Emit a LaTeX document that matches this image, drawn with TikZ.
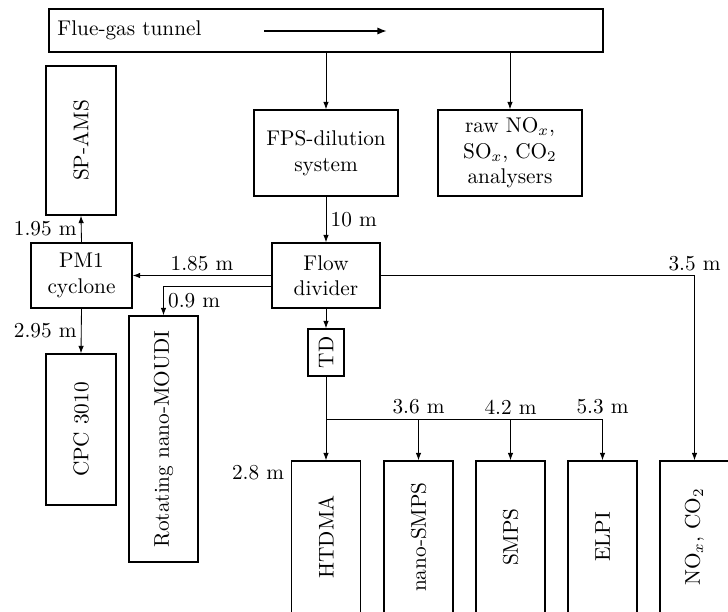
\documentclass[tikz,border=0pt]{standalone}
\usepackage{graphicx}
\usetikzlibrary{arrows.meta,calc}
\def\pxu{0.47pt}
\tikzset{
  box/.style={draw, line width=0.7pt, inner sep=0pt, align=center},
  arr/.style={-{Latex[length=3.5pt,width=2.6pt]}, line width=0.4pt},
  lbl/.style={inner sep=2pt},
}
\begin{document}
\begin{tikzpicture}[x=0.47pt, y=-0.47pt]
\useasboundingbox (0,0) rectangle (728,611);
\clip (0,0) rectangle (728,611);
% boxes
\node[box, minimum width={554*\pxu}, minimum height={43*\pxu}] (tunnel) at (326,30.5) {};
\node[anchor=base west, inner sep=0pt] (tuntext) at (57,35.5) {Flue-gas tunnel};
\coordinate (fa) at (264,31);
\coordinate (fb) at (387,31);
\node[box, minimum width={70*\pxu}, minimum height={149*\pxu}] (sp) at (81,140.5) {\rotatebox{90}{SP-AMS}};
\node[box, minimum width={101*\pxu}, minimum height={65*\pxu}] (pm) at (81.5,275.5) {PM1\\cyclone};
\node[box, minimum width={70*\pxu}, minimum height={151*\pxu}] (cpc) at (81,429.5) {\rotatebox{90}{CPC 3010}};
\node[box, minimum width={69*\pxu}, minimum height={246*\pxu}] (rot) at (163.5,439) {\rotatebox{90}{Rotating nano-MOUDI}};
\node[box, minimum width={144*\pxu}, minimum height={86*\pxu}] (fps) at (326,153) {FPS-dilution\\system};
\node[box, minimum width={144*\pxu}, minimum height={86*\pxu}] (raw) at (510,153) {raw NO$_x$,\\SO$_x$, CO$_2$\\analysers};
\node[box, minimum width={108*\pxu}, minimum height={65*\pxu}] (fd) at (326,275.5) {Flow\\divider};
\node[box, minimum width={36*\pxu}, minimum height={47*\pxu}] (td) at (326,352.5) {\rotatebox{90}{TD}};
\node[box, minimum width={69*\pxu}, minimum height={152*\pxu}] (htdma) at (326,537) {\rotatebox{90}{HTDMA}};
\node[box, minimum width={69*\pxu}, minimum height={152*\pxu}] (nsmps) at (418.5,537) {\rotatebox{90}{nano-SMPS}};
\node[box, minimum width={69*\pxu}, minimum height={152*\pxu}] (smps) at (510.5,537) {\rotatebox{90}{SMPS}};
\node[box, minimum width={69*\pxu}, minimum height={152*\pxu}] (elpi) at (602.5,537) {\rotatebox{90}{ELPI}};
\node[box, minimum width={69*\pxu}, minimum height={152*\pxu}] (nox) at (694.5,537) {\rotatebox{90}{NO$_x$, CO$_2$}};
% connectors
\draw[-{Latex[length=4.5pt,width=3.4pt]}, line width=0.8pt] (fa) -- (fb);
\draw[arr] (fps.north |- tunnel.south) -- (fps.north);
\draw[arr] (raw.north |- tunnel.south) -- (raw.north);
\draw[arr] (fps.south) -- node[right, lbl] {10 m} (fd.north);
\draw[arr] (fd.west) -- node[above, lbl] {1.85 m} (pm.east);
\draw[arr] ($(fd.west)+(0,10.5)$) -| node[pos=0.75, right, lbl] {0.9 m} (rot.north);
\draw[arr] (pm.north) -- node[left, lbl] {1.95 m} (sp.south);
\draw[arr] (pm.south) -- node[left, lbl] {2.95 m} (cpc.north);
\draw[arr] (fd.south) -- (td.north);
\draw[arr] (td.south) -- (htdma.north);
\coordinate (bus) at (326,419);
\draw[arr] (bus) -| node[above, lbl] {3.6 m} (nsmps.north);
\draw[arr] (bus) -| node[above, lbl] {4.2 m} (smps.north);
\draw[arr] (bus) -| node[above, lbl] {5.3 m} (elpi.north);
\draw[arr] (fd.east) -| node[above, lbl] {3.5 m} (nox.north);
\node[anchor=east, lbl] (l28) at ($(htdma.north west)+(-2,12)$) {2.8 m};
\end{tikzpicture}
\end{document}
